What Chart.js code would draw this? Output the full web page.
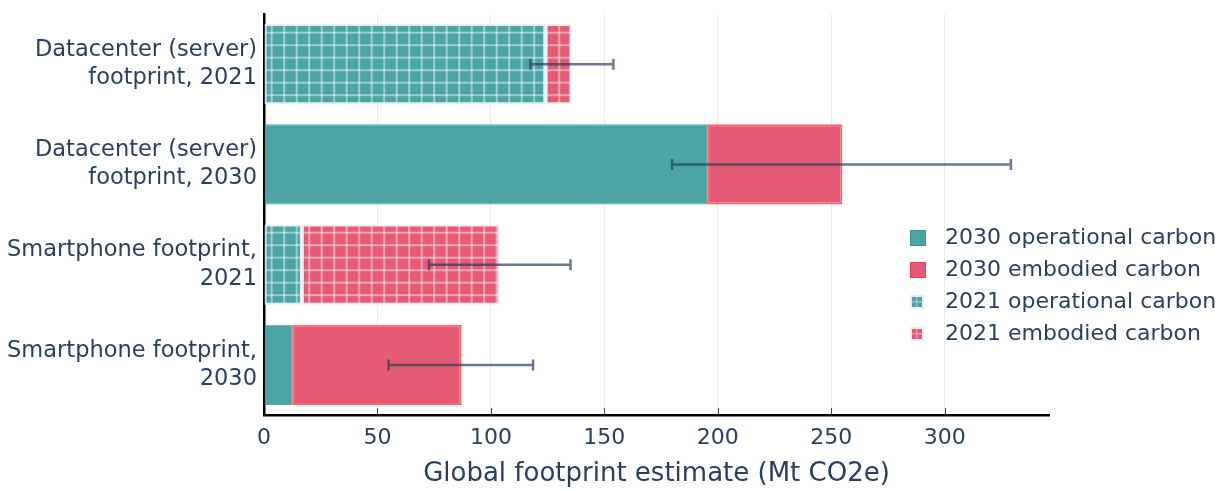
<!DOCTYPE html>
<html>
<head>
<meta charset="utf-8">
<script src="https://cdn.jsdelivr.net/npm/chart.js@4"></script>
<style>
  html, body { margin: 0; padding: 0; background: #ffffff; }
  #wrap { width: 1220px; height: 491px; position: relative; }
</style>
</head>
<body>
<div id="wrap"><canvas id="c" width="1220" height="491"></canvas></div>
<script>
// Categories (two-line labels)
const categories = [
  ["Datacenter (server)", "footprint, 2021"],
  ["Datacenter (server)", "footprint, 2030"],
  ["Smartphone footprint,", "2021"],
  ["Smartphone footprint,", "2030"]
];

// Series values, Mt CO2e (null where the series does not apply)
const op2030  = [null, 195.3, null, 12.4];
const emb2030 = [null, 59.6, null, 74.7];
const op2021  = [124.0, null, 16.7, null];
const emb2021 = [11.5, null, 87.2, null];

// Uncertainty range of each total estimate
const errLow  = [117.4, 179.9, 72.7, 54.9];
const errHigh = [154.0, 329.2, 135.1, 118.6];

// X axis ticks
const xTicks = [0, 50, 100, 150, 200, 250, 300];
const xMax = 346;

const TEXT = '#2a3f5f';
const FONT = "'DejaVu Sans', Verdana, sans-serif";
const TEAL = 'rgb(75,165,164)';
const RED = 'rgb(229,91,117)';

// Grid-hatched fill used for the 2021 estimates
function gridPattern(base) {
  const c = document.createElement('canvas');
  c.width = 25; c.height = 25;
  const g = c.getContext('2d');
  g.fillStyle = base;
  g.fillRect(0, 0, 25, 25);
  g.fillStyle = 'rgba(255,255,255,0.45)';
  [9.2, 21.7].forEach(x => g.fillRect(x - 1, 0, 2, 25));
  [7.7, 20.2].forEach(y => g.fillRect(0, y - 1, 25, 2));
  return g.createPattern(c, 'repeat');
}
const tealPattern = gridPattern(TEAL);
const redPattern = gridPattern(RED);

// Error bars drawn on top of the stacked bars
const errorBars = {
  id: 'errorBars',
  afterDatasetsDraw(chart) {
    const { ctx, scales: { x, y } } = chart;
    ctx.save();
    ctx.strokeStyle = 'rgba(42,63,95,0.7)';
    ctx.lineWidth = 2.5;
    errLow.forEach((lo, i) => {
      const py = y.getPixelForValue(i);
      const x1 = x.getPixelForValue(lo);
      const x2 = x.getPixelForValue(errHigh[i]);
      ctx.beginPath();
      ctx.moveTo(x1, py); ctx.lineTo(x2, py);
      ctx.moveTo(x1, py - 5.5); ctx.lineTo(x1, py + 5.5);
      ctx.moveTo(x2, py - 5.5); ctx.lineTo(x2, py + 5.5);
      ctx.stroke();
    });
    ctx.restore();
  }
};

// Inside tick marks on the x axis
const insideTicks = {
  id: 'insideTicks',
  afterDraw(chart) {
    const { ctx, chartArea, scales: { x } } = chart;
    ctx.save();
    ctx.strokeStyle = '#444';
    ctx.lineWidth = 1;
    xTicks.forEach(v => {
      if (v === 0) return;
      const px = Math.round(x.getPixelForValue(v)) + 0.5;
      ctx.beginPath();
      ctx.moveTo(px, chartArea.bottom - 7);
      ctx.lineTo(px, chartArea.bottom);
      ctx.stroke();
    });
    ctx.restore();
  }
};

// Legend placed inside the plot, right side
const sideLegend = {
  id: 'sideLegend',
  afterDraw(chart) {
    const { ctx } = chart;
    const rows = [238, 270, 302, 334];
    ctx.save();
    ctx.font = '22px ' + FONT;
    ctx.textBaseline = 'middle';
    ctx.textAlign = 'left';
    chart.data.datasets.forEach((ds, i) => {
      const cy = rows[i];
      if (ds.hatched) {
        ctx.fillStyle = 'rgba(229,236,246,0.9)';
        ctx.fillRect(910, cy - 7, 14, 14);
        ctx.fillStyle = ds.legendColor;
        ctx.fillRect(912, cy - 5, 10, 10);
        ctx.fillStyle = 'rgba(255,255,255,0.35)';
        ctx.fillRect(916, cy - 5, 1.5, 10);
        ctx.fillRect(912, cy - 1, 10, 1.5);
      } else {
        ctx.fillStyle = ds.legendColor;
        ctx.fillRect(910, cy - 8, 16, 16);
        ctx.strokeStyle = ds.borderColor;
        ctx.lineWidth = 1;
        ctx.strokeRect(910.5, cy - 7.5, 15, 15);
      }
      ctx.fillStyle = TEXT;
      ctx.fillText(ds.label, 945, cy);
    });
    ctx.restore();
  }
};

new Chart(document.getElementById('c'), {
  type: 'bar',
  data: {
    labels: categories,
    datasets: [
      { label: '2030 operational carbon', data: op2030, backgroundColor: TEAL, legendColor: TEAL,
        borderColor: 'rgba(60,140,140,0.8)', borderWidth: 1 },
      { label: '2030 embodied carbon', data: emb2030, backgroundColor: RED, legendColor: RED,
        borderColor: 'rgba(255,50,60,0.75)', borderWidth: 2 },
      { label: '2021 operational carbon', data: op2021, backgroundColor: tealPattern, legendColor: TEAL,
        borderColor: 'rgba(229,236,246,0.9)', borderWidth: 2, hatched: true },
      { label: '2021 embodied carbon', data: emb2021, backgroundColor: redPattern, legendColor: RED,
        borderColor: 'rgba(229,236,246,0.9)', borderWidth: 2, hatched: true }
    ]
  },
  options: {
    indexAxis: 'y',
    responsive: false,
    animation: false,
    devicePixelRatio: 1,
    layout: { padding: { top: 14, right: 171, left: 0, bottom: 0 } },
    datasets: {
      bar: { barPercentage: 0.8, categoryPercentage: 1.0, borderSkipped: false, stack: 'all' }
    },
    plugins: {
      legend: { display: false },
      tooltip: { enabled: false }
    },
    scales: {
      x: {
        type: 'linear',
        stacked: true,
        min: 0,
        max: xMax,
        afterBuildTicks(scale) { scale.ticks = xTicks.map(v => ({ value: v })); },
        afterFit(scale) { scale.height = 76; scale.paddingLeft = 0; scale.paddingRight = 0; },
        grid: { color: '#ececec', lineWidth: 1, drawTicks: false },
        border: { display: true, color: '#000', width: 2.5 },
        ticks: { color: TEXT, font: { family: FONT, size: 22 }, padding: 10, maxRotation: 0 },
        title: {
          display: true,
          text: 'Global footprint estimate (Mt CO2e)',
          color: TEXT,
          font: { family: FONT, size: 26 },
          padding: { top: 0, bottom: 1 }
        }
      },
      y: {
        type: 'category',
        stacked: true,
        afterFit(scale) { scale.width = 264; scale.paddingTop = 0; scale.paddingBottom = 0; },
        grid: { display: false, drawTicks: false },
        border: { display: true, color: '#000', width: 2.5 },
        ticks: { color: TEXT, font: { family: FONT, size: 22.5, lineHeight: 1.25 }, padding: 7 }
      }
    }
  },
  plugins: [errorBars, insideTicks, sideLegend]
});
</script>
</body>
</html>
